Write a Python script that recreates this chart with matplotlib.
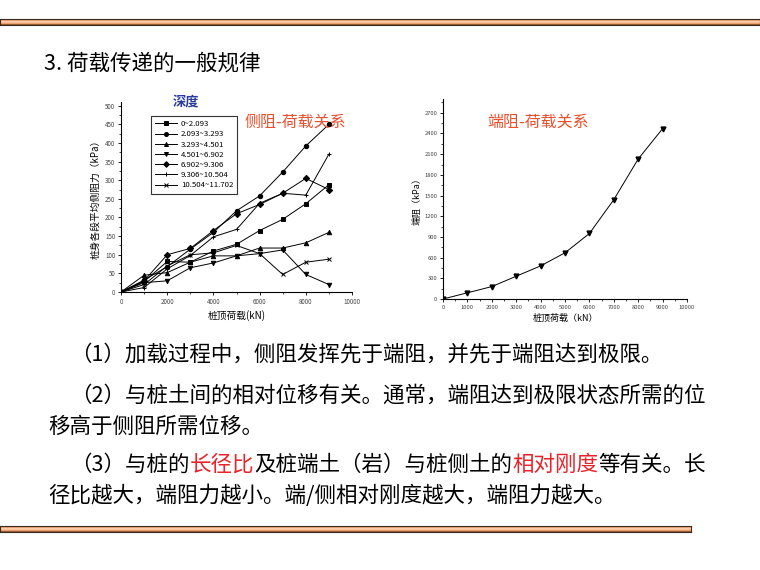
import matplotlib
matplotlib.use("Agg")
import matplotlib.pyplot as plt
import numpy as np
from matplotlib.colors import LinearSegmentedColormap
from matplotlib.ticker import MultipleLocator

plt.rcParams['font.family'] = ['Noto Sans CJK SC', 'DejaVu Sans']

# ---- data ----
load = [0, 1000, 2000, 3000, 4000, 5000, 6000, 7000, 8000, 9000]

depth_labels = ["0~2.093", "2.093~3.293", "3.293~4.501", "4.501~6.902",
                "6.902~9.306", "9.306~10.504", "10.504~11.702"]
depth_markers = ["s", "o", "^", "v", "D", "+", "x"]

side_0_2093 = [0, 28, 82, 80, 110, 128, 165, 195, 237, 288]
side_2093_3293 = [0, 32, 68, 115, 160, 218, 258, 322, 392, 450]
side_3293_4501 = [0, 45, 52, 80, 97, 97, 118, 118, 132, 160]
side_4501_6902 = [0, 25, 30, 65, 78, 97, 103, 113, 47, 20]
side_6902_9306 = [0, 30, 100, 117, 165, 210, 235, 265, 305, 275]
side_9306_10504 = [0, 12, 62, 98, 148, 168, 238, 265, 260, 370]
side_10504_11702 = [0, 20, 70, 100, 105, 125, 103, 47, 80, 88]

side_series = [side_0_2093, side_2093_3293, side_3293_4501, side_4501_6902,
               side_6902_9306, side_9306_10504, side_10504_11702]

end_resistance = [0, 90, 180, 330, 480, 670, 950, 1440, 2030, 2470]

W, H = 760, 570
fig = plt.figure(figsize=(W / 100, H / 100), dpi=100)


def box(x0, y0, x1, y1):
    # pixel box (top-left origin) -> figure rect
    return [x0 / W, 1 - y1 / H, (x1 - x0) / W, (y1 - y0) / H]


# ---- decorative bars ----
bar_cmap = LinearSegmentedColormap.from_list(
    "bar", ["#4a2208", "#ee9a66", "#fcd8bd", "#f7bc92", "#ef9d62", "#5a3010"])


def deco_bar(x0, y0, x1, y1):
    bax = fig.add_axes(box(x0, y0, x1, y1))
    bax.imshow(np.linspace(0, 1, 60).reshape(-1, 1), cmap=bar_cmap, aspect="auto")
    bax.set_xticks([])
    bax.set_yticks([])
    for s in bax.spines.values():
        s.set_linewidth(0.8)
        s.set_color("#3a2a20")


deco_bar(0, 19, 760, 25)
deco_bar(0, 526, 691, 532)

# ---- title ----
fig.text(44 / W, 1 - 64 / H, "3. 荷载传递的一般规律", fontsize=15.5, va="center", ha="left")


def style_axes(ax):
    for side in ["top", "right"]:
        ax.spines[side].set_visible(False)
    for side in ["left", "bottom"]:
        ax.spines[side].set_linewidth(0.8)
    ax.tick_params(which="major", direction="out", length=2.5, width=0.6,
                   labelsize=4.5, pad=1.5, labelcolor="#444444")
    ax.tick_params(which="minor", direction="out", length=1.5, width=0.5)


# ---- left chart: side resistance ----
ax1 = fig.add_axes(box(121, 102, 352, 292))
for vals, lab, mk in zip(side_series, depth_labels, depth_markers):
    ms = 3.2 if mk not in ["+", "x"] else 3.5
    ax1.plot(load, vals, color="black", lw=0.7, marker=mk, ms=ms,
             mew=0.7, label=lab)
ax1.set_xlim(0, 10000)
ax1.set_ylim(0, 510)
ax1.xaxis.set_major_locator(MultipleLocator(2000))
ax1.xaxis.set_minor_locator(MultipleLocator(1000))
ax1.yaxis.set_major_locator(MultipleLocator(50))
ax1.yaxis.set_minor_locator(MultipleLocator(25))
style_axes(ax1)
ax1.set_xlabel("桩顶荷载(kN)", fontsize=7, labelpad=3)
ax1.set_ylabel("桩身各段平均侧阻力（kPa）", fontsize=7, labelpad=3)
leg = ax1.legend(loc="upper left", bbox_to_anchor=(147 / W, 1 - 112 / H),
                 bbox_transform=fig.transFigure, fontsize=5.6, frameon=True,
                 fancybox=False, framealpha=1, edgecolor="#333333",
                 handlelength=2.8, handletextpad=0.5, labelspacing=0.28,
                 borderpad=0.55, markerscale=0.9)
leg.get_frame().set_linewidth(0.8)
fig.text(186 / W, 1 - 101 / H, "深度", color="#2a3d9c", fontsize=9.5,
         fontweight="bold", ha="center", va="center")
fig.text(295 / W, 1 - 122 / H, "侧阻-荷载关系", color="#e8502e", fontsize=11.5,
         ha="center", va="center")

# ---- right chart: end resistance ----
ax2 = fig.add_axes(box(443, 99, 687, 299))
ax2.plot(load, end_resistance, color="black", lw=0.7, marker="v", ms=3.5)
ax2.set_xlim(0, 10000)
ax2.set_ylim(0, 2900)
ax2.xaxis.set_major_locator(MultipleLocator(1000))
ax2.xaxis.set_minor_locator(MultipleLocator(500))
ax2.yaxis.set_major_locator(MultipleLocator(300))
ax2.yaxis.set_minor_locator(MultipleLocator(150))
style_axes(ax2)
ax2.tick_params(which="major", labelsize=4.2)
ax2.set_xlabel("桩顶荷载（kN）", fontsize=6.5, labelpad=3)
ax2.set_ylabel("端阻（kPa）", fontsize=6.5, labelpad=2)
fig.text(538 / W, 1 - 122 / H, "端阻-荷载关系", color="#e8502e", fontsize=11.5,
         ha="center", va="center")

# ---- body text ----
body_size = 15.5
renderer = fig.canvas.get_renderer()


def line(x, y, parts):
    cx = x
    for txt, col in parts:
        t = fig.text(cx / W, 1 - y / H, txt, fontsize=body_size, color=col,
                     ha="left", va="center")
        bb = t.get_window_extent(renderer=renderer)
        cx += bb.width


line(70, 355, [("（1）加载过程中，侧阻发挥先于端阻，并先于端阻达到极限。", "black")])
line(70, 396, [("（2）与桩土间的相对位移有关。通常，端阻达到极限状态所需的位", "black")])
line(48, 427, [("移高于侧阻所需位移。", "black")])
line(70, 465, [("（3）与桩的", "black"), ("长径比", "#e8232a"),
               ("及桩端土（岩）与桩侧土的", "black"), ("相对刚度", "#e8232a"),
               ("等有关。长", "black")])
line(48, 496, [("径比越大，端阻力越小。端/侧相对刚度越大，端阻力越大。", "black")])

fig.savefig("out.png", dpi=100)
